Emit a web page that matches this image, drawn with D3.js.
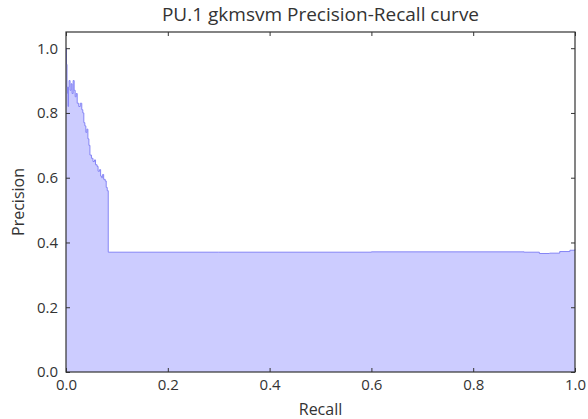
<!DOCTYPE html>
<html>
<head>
<meta charset="utf-8">
<script src="https://cdn.jsdelivr.net/npm/d3@7"></script>
<style>
  body { margin: 0; background: #fff; }
  text { font-family: "Open Sans", "DejaVu Sans", sans-serif; fill: #333; }
</style>
</head>
<body>
<svg id="chart" width="588" height="419"></svg>
<script>
// values (step curve, where = post)
const recall = [0.000, 0.001, 0.002, 0.003, 0.004, 0.005, 0.006, 0.008, 0.010, 0.012,
    0.014, 0.016, 0.018, 0.020, 0.022, 0.025, 0.028, 0.031, 0.033, 0.035,
    0.037, 0.039, 0.041, 0.043, 0.045, 0.047, 0.050, 0.053, 0.056, 0.058,
    0.061, 0.063, 0.066, 0.068, 0.070, 0.072, 0.074, 0.077, 0.079, 0.081,
    0.083, 0.30, 0.60, 0.90, 0.93, 0.95, 0.97, 0.99, 1.00];
const precision = [1.000, 0.950, 0.880, 0.860, 0.820, 0.880, 0.900, 0.870, 0.890, 0.860,
    0.900, 0.870, 0.850, 0.860, 0.830, 0.820, 0.830, 0.810, 0.800, 0.770,
    0.760, 0.740, 0.750, 0.720, 0.700, 0.670, 0.660, 0.650, 0.655, 0.640,
    0.635, 0.620, 0.625, 0.605, 0.600, 0.610, 0.595, 0.590, 0.570, 0.560,
    0.370, 0.370, 0.371, 0.370, 0.366, 0.367, 0.372, 0.376, 0.378];
const xTicks = [0, 0.2, 0.4, 0.6, 0.8, 1.0];
const yTicks = [0, 0.2, 0.4, 0.6, 0.8, 1.0];

const svg = d3.select('#chart');
const margin = {top: 32, right: 13, bottom: 47, left: 66};
const width = 588 - margin.left - margin.right;
const height = 419 - margin.top - margin.bottom;

const x = d3.scaleLinear().domain([0, 1]).range([0, width]);
const y = d3.scaleLinear().domain([0, 1.05]).range([height, 0]);

const data = recall.map((r, i) => ({r: r, p: precision[i]}));

const g = svg.append('g')
    .attr('transform', `translate(${margin.left}, ${margin.top})`);

const area = d3.area()
    .curve(d3.curveStepAfter)
    .x(d => x(d.r))
    .y0(y(0))
    .y1(d => y(d.p));

g.append('path')
    .datum(data)
    .attr('fill', '#ccccff')
    .attr('d', area);

const line = d3.line()
    .curve(d3.curveStepAfter)
    .x(d => x(d.r))
    .y(d => y(d.p));

g.append('path')
    .datum(data)
    .attr('fill', 'none')
    .attr('stroke', '#8585f5')
    .attr('stroke-width', 1)
    .attr('d', line);

// ticks inside, on all four sides
const fmt = d3.format('.1f');
const styleAxis = sel => {
    sel.select('.domain').remove();
    sel.selectAll('line').attr('stroke', '#333');
    sel.selectAll('text').style('font-size', '15px').attr('fill', '#333');
};

g.append('g')
    .attr('transform', `translate(0, ${height})`)
    .call(d3.axisBottom(x).tickValues(xTicks).tickFormat(fmt).tickSizeInner(-4).tickSizeOuter(0).tickPadding(7))
    .call(styleAxis);

g.append('g')
    .call(d3.axisLeft(y).tickValues(yTicks).tickFormat(fmt).tickSizeInner(-4).tickSizeOuter(0).tickPadding(8))
    .call(styleAxis);

g.append('g')
    .call(d3.axisTop(x).tickValues(xTicks).tickFormat('').tickSizeInner(-4).tickSizeOuter(0))
    .call(styleAxis);

g.append('g')
    .attr('transform', `translate(${width}, 0)`)
    .call(d3.axisRight(y).tickValues(yTicks).tickFormat('').tickSizeInner(-4).tickSizeOuter(0))
    .call(styleAxis);

g.append('rect')
    .attr('width', width)
    .attr('height', height)
    .attr('fill', 'none')
    .attr('stroke', '#333')
    .attr('stroke-width', 1.2);

svg.append('text')
    .attr('x', margin.left + width / 2)
    .attr('y', 21)
    .attr('text-anchor', 'middle')
    .style('font-size', '19px')
    .text('PU.1 gkmsvm Precision-Recall curve');

svg.append('text')
    .attr('x', margin.left + width / 2)
    .attr('y', 415)
    .attr('text-anchor', 'middle')
    .style('font-size', '16px')
    .text('Recall');

svg.append('text')
    .attr('transform', `translate(24, ${margin.top + height / 2}) rotate(-90)`)
    .attr('text-anchor', 'middle')
    .style('font-size', '16px')
    .text('Precision');
</script>
</body>
</html>
